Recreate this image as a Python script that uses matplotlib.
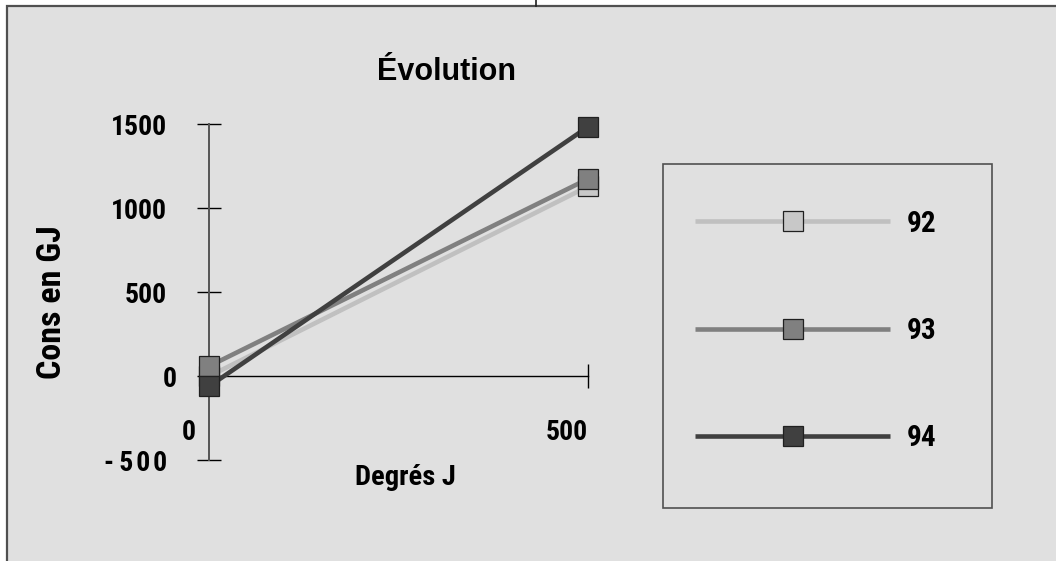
import matplotlib
matplotlib.use("Agg")
import matplotlib.pyplot as plt
import matplotlib.transforms as mtransforms
from matplotlib.patches import Rectangle
from matplotlib.lines import Line2D

# Data
degres_j = [0, 500]
series_names = ["92", "93", "94"]
cons_92 = [0, 1130]
cons_93 = [60, 1175]
cons_94 = [-60, 1485]
x_ticks = [0, 500]
x_tick_labels = ["0", "500"]
y_ticks = [-500, 0, 500, 1000, 1500]
y_tick_labels = ["-\u20095\u200a0\u200a0", "0", "500", "1000", "1500"]

line_colors = ["#c0c0c0", "#808080", "#404040"]
marker_colors = ["#c8c8c8", "#808080", "#404040"]

W, H, DPI = 1056, 561, 100
NARROW = ["Roboto Condensed", "Liberation Sans Narrow", "DejaVu Sans"]
WIDE = ["Liberation Sans", "DejaVu Sans"]
STRETCH = "condensed"
HEAVY = "black"

fig = plt.figure(figsize=(W / DPI, H / DPI), dpi=DPI, facecolor="white")


def fx(px):
    return px / W


def fy(py):
    return 1 - py / H


# Grey chart panel with its frame
panel = Rectangle((fx(7), fy(H + 10)), fx(W + 10 - 7), fy(6) - fy(H + 10),
                  transform=fig.transFigure, facecolor="#e0e0e0",
                  edgecolor="#505050", linewidth=1.6, zorder=-5)
fig.patches.append(panel)
fig.add_artist(Line2D([fx(536), fx(536)], [fy(0), fy(6)],
                      transform=fig.transFigure, color="#202020", lw=1.2,
                      zorder=-4))

# Plot area
left, right = 209, 588
top, bottom = 124.3, 460.3
ax = fig.add_axes([fx(left), fy(bottom), fx(right - left), fy(top) - fy(bottom)])
ax.set_facecolor("none")
ax.set_xlim(0, 500)
ax.set_ylim(-500, 1500)

for name, vals, lc, mc in zip(series_names, [cons_92, cons_93, cons_94],
                              line_colors, marker_colors):
    ax.plot(degres_j, vals, color=lc, lw=3.3, marker="s", markersize=14.4,
            markerfacecolor=mc, markeredgecolor="#202020", markeredgewidth=0.9,
            clip_on=False, label=name, solid_capstyle="butt", zorder=3)

for s in ["top", "right"]:
    ax.spines[s].set_visible(False)
ax.spines["left"].set_color("#555555")
ax.spines["left"].set_linewidth(1.4)
ax.spines["bottom"].set_position(("data", 0))
ax.spines["bottom"].set_color("black")
ax.spines["bottom"].set_linewidth(1.0)

tick_font = dict(fontfamily=NARROW, fontweight=HEAVY, fontsize=20,
                 fontstretch=STRETCH)
ax.set_xticks(x_ticks)
ax.set_xticklabels(x_tick_labels, ha="right", **tick_font)
ax.set_yticks(y_ticks)
ax.set_yticklabels(y_tick_labels, **tick_font)
ax.tick_params(axis="both", direction="inout", length=17.3, width=1.0,
               color="black")
ax.tick_params(axis="y", pad=21.6)
ax.tick_params(axis="x", pad=22)

# Nudge the two zero labels to their own spots
for lab in ax.get_xticklabels():
    if lab.get_text() == "0":
        lab.set_transform(lab.get_transform() + mtransforms.ScaledTranslation(
            -13 / DPI, 0, fig.dpi_scale_trans))
for lab in ax.get_yticklabels():
    if lab.get_text() == "0":
        lab.set_transform(lab.get_transform() + mtransforms.ScaledTranslation(
            10 / DPI, 0, fig.dpi_scale_trans))

# Titles
fig.text(fx(446.5), fy(80), "Évolution", ha="center", va="baseline",
         fontfamily=WIDE, fontweight="bold", fontsize=22)
fig.text(fx(405), fy(485), "Degrés J", ha="center", va="baseline",
         fontfamily=NARROW, fontweight=HEAVY, fontsize=20.5,
         fontstretch=STRETCH)
fig.text(fx(52), fy(302), "Cons en GJ", ha="center", va="center",
         rotation=90, fontfamily=NARROW, fontweight=HEAVY, fontsize=24.5,
         fontstretch=STRETCH)

# Legend with its own frame
fig.patches.append(Rectangle((fx(663), fy(508)), fx(992 - 663), fy(164) - fy(508),
                             transform=fig.transFigure, facecolor="none",
                             edgecolor="#505050", linewidth=1.2, zorder=1))
leg = ax.legend(loc="center", bbox_to_anchor=(fx(816), fy(331)),
                bbox_transform=fig.transFigure, frameon=False,
                handlelength=6.69, handletextpad=0.58, labelspacing=2.72,
                borderpad=0, numpoints=1,
                prop={"family": NARROW, "weight": HEAVY, "size": 21,
                      "stretch": STRETCH})

fig.savefig("out.png", dpi=DPI, facecolor="white")
